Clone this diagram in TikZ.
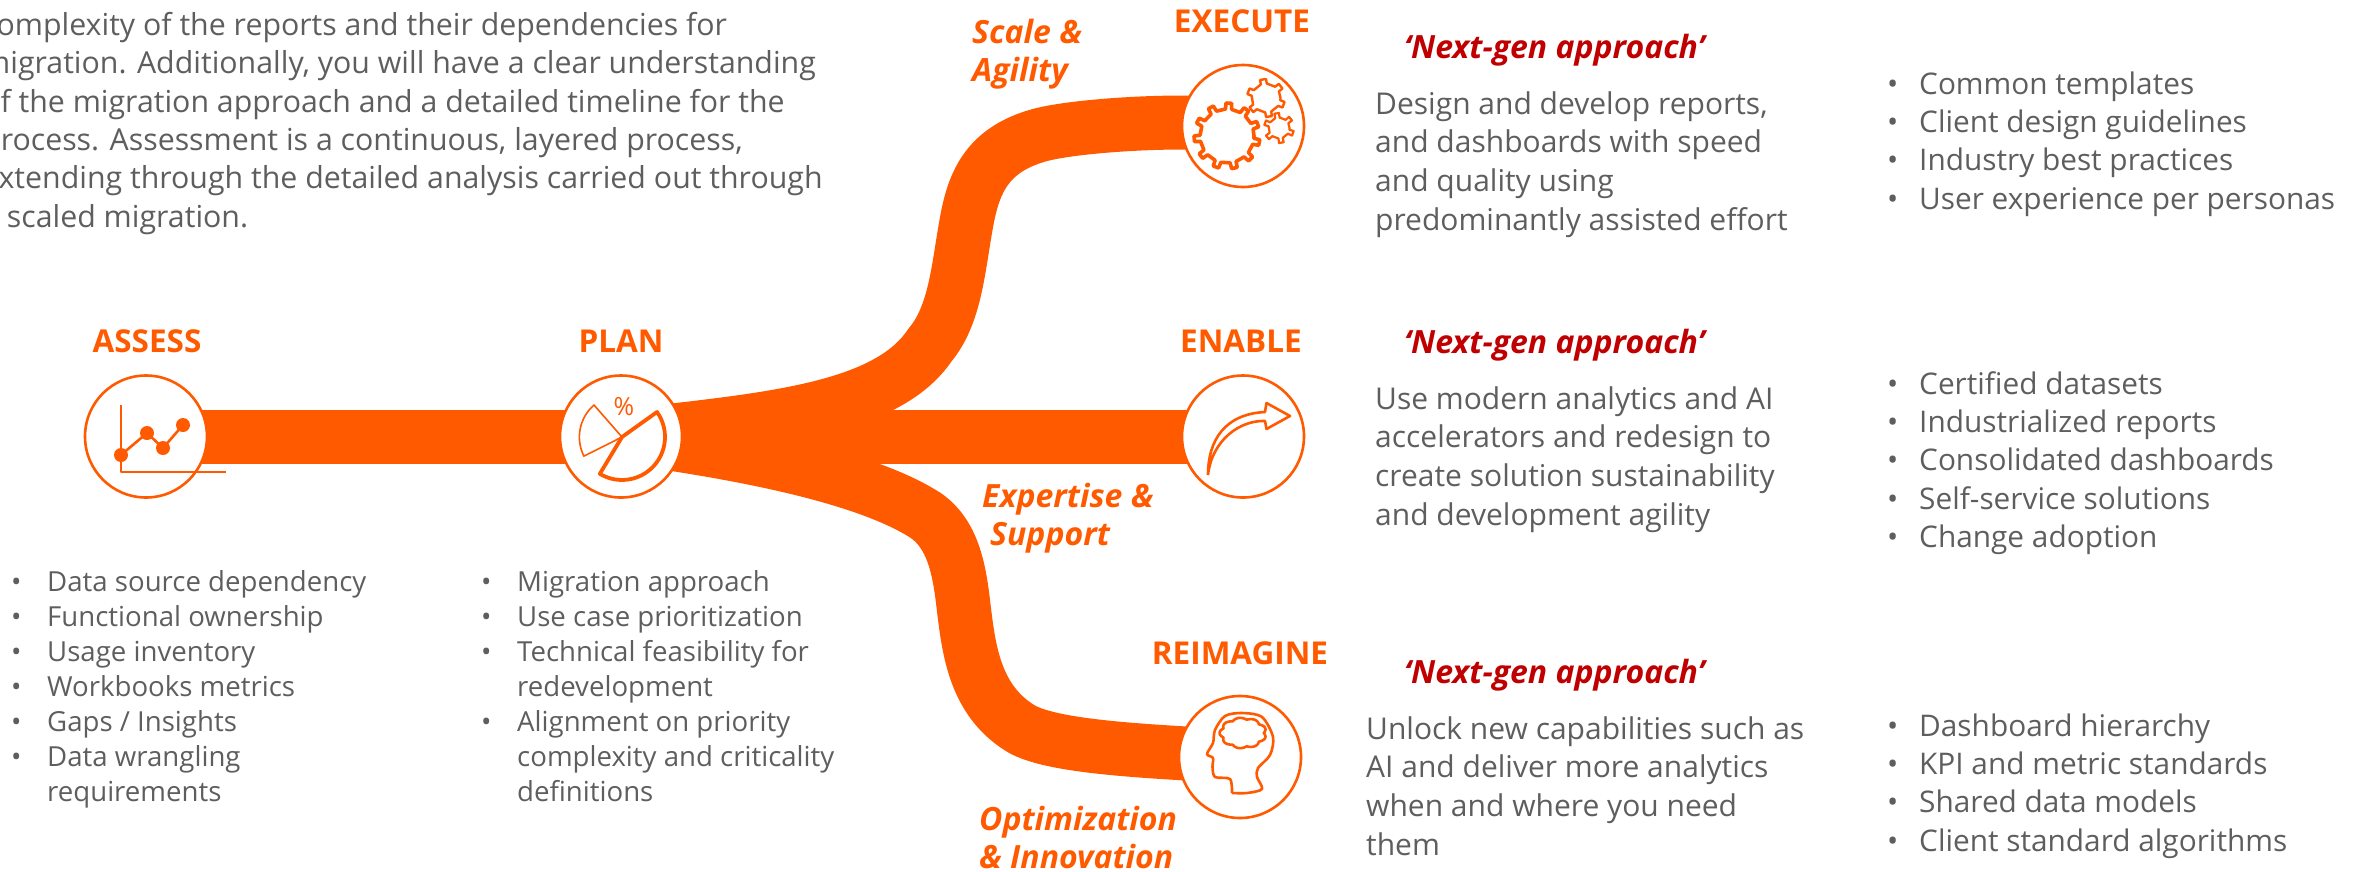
\documentclass[tikz,border=0pt]{standalone}
\usepackage{fontspec}
\setmainfont{Open Sans}
\usetikzlibrary{backgrounds}
\definecolor{brand}{HTML}{FF5A00}
\definecolor{bodygray}{HTML}{5E5E5E}
\definecolor{nextred}{HTML}{C00000}
\newcommand\bi{\makebox[32pt][l]{•}}
\newcommand\bj{\makebox[36pt][l]{•}}
\newcommand\ci{\hspace*{36pt}}
\newcommand\fl{\rule{0pt}{30pt}}
\newcommand\gearicon[6]{%
  \pgfmathsetmacro\gstep{360/#5}
  \draw[iconline,line width=#6pt,shift={(#1,#2)}] (0:#3)
    \foreach \k in {1,...,#5}{
      -- ({(\k-1+.15)*\gstep}:#3) -- ({(\k-1+.2)*\gstep}:#4) -- ({(\k-1+.5)*\gstep}:#4) -- ({(\k-1+.55)*\gstep}:#3)
    } -- cycle;}
\tikzset{
  x=1pt,y=-1pt,
  stage/.style={circle,draw=brand,fill=white,line width=2.6pt,minimum size=122pt,inner sep=0},
  ribbon/.style={draw=brand,line width=54pt,line cap=butt},
  iconline/.style={draw=brand,line width=2.6pt,line join=round},
  iconthin/.style={draw=brand,line width=1.6pt,line join=round},
  iconthick/.style={draw=brand,line width=3.8pt,line join=round},
  heading/.style={text=brand,inner sep=0,font=\fontsize{31.5}{36}\selectfont\bfseries},
  tagline/.style={text=brand,inner sep=0,anchor=north west,yshift=30pt,align=left,font=\fontsize{32}{38.5}\selectfont\bfseries\itshape},
  nextgen/.style={text=nextred,inner sep=0,anchor=base west,font=\fontsize{32}{36}\selectfont\bfseries\itshape},
  bodytext/.style={text=bodygray,inner sep=0,anchor=north west,yshift=30pt,align=left,font=\fontsize{30}{38.6}\selectfont},
  listtext/.style={text=bodygray,inner sep=0,anchor=north west,yshift=30pt,align=left,font=\fontsize{27.6}{35}\selectfont},
  sidelist/.style={text=bodygray,inner sep=0,anchor=north west,yshift=30pt,align=left,font=\fontsize{29.8}{38.3}\selectfont},
}
\begin{document}
\begin{tikzpicture}
\useasboundingbox (0,0) rectangle (2362,871);
% stages
\node[stage] (assess) at (146,436.5) {};
\node[stage] (plan) at (621,436.5) {};
\node[stage] (execute) at (1243,126) {};
\node[stage] (enable) at (1243,436.5) {};
\node[stage] (reimagine) at (1240,757) {};
% ribbons
\begin{pgfonlayer}{background}
\draw[ribbon] (assess.center) -- (plan.center);
\draw[ribbon] (plan.center) -- (enable.center);
\draw[ribbon] (plan.center) .. controls (760,420) and (885,412) .. (930,345)
  .. controls (955,315) and (958,270) .. (966,225)
  .. controls (973,185) and (985,150) .. (1040,135)
  .. controls (1077,125) and (1190,118) .. (execute.center);
\draw[ribbon] (plan.center) .. controls (760,455) and (870,480) .. (925,515)
  .. controls (955,535) and (960,575) .. (964,610)
  .. controls (969,650) and (975,700) .. (1020,728)
  .. controls (1055,750) and (1180,752) .. (reimagine.center);
\end{pgfonlayer}
% headings
\node[heading] (hassess) at (147,341) {ASSESS};
\node[heading] (hplan) at (621,341) {PLAN};
\node[heading] (hexecute) at (1242,21.5) {EXECUTE};
\node[heading] (henable) at (1241,341) {ENABLE};
\node[heading] (hreimagine) at (1240,653) {REIMAGINE};
% assess icon
\draw[iconline] (121,405) -- (121,472) -- (226,472);
\draw[iconline] (121,455) -- (147,433) -- (163,448) -- (183,425);
\foreach \a/\b in {121/455,147/433,163/448,183/425}
  \fill[brand] (\a,\b) circle[radius=7pt];
% plan icon
\draw[iconthin] (622,437) -- (594,405) arc[start angle=131,end angle=206.6,radius=42.5pt] -- cycle;
\draw[iconthick] (622,437) -- (657,412) arc[start angle=35.5,end angle=-121,radius=43pt] -- cycle;
\node[text=brand,inner sep=0,font=\fontsize{25}{30}\selectfont] (pct) at (624,407) {\%};
% execute icon
\gearicon{1227}{136}{27}{33}{11}{3.6}
\gearicon{1266}{98}{14.5}{19}{6}{2.4}
\gearicon{1279}{128}{10.5}{15}{6}{2.2}
% enable icon
\draw[iconline] (1208,475) .. controls (1208,440) and (1225,414) .. (1265,412) -- (1266.5,403) -- (1290,416) -- (1266.5,429) -- (1265,421) .. controls (1240,420) and (1212,440) .. (1208,475);
% reimagine icon
\draw[iconline] plot[smooth,tension=0.5] coordinates {(1232,793) (1230,779) (1215,777) (1212.5,767) (1213,758) (1207,754) (1213,743) (1215,730) (1225,716) (1242,713) (1262,717) (1273,737) (1270,755) (1258,768) (1257,777) (1262,789) (1247,793) (1232,793)};
\draw[iconline] plot[domain=0:360,samples=145,smooth] ({1243+23*(0.9+0.12*abs(sin(4.5*\x)))*cos(\x)},{733+15*(0.9+0.12*abs(sin(4.5*\x)))*sin(\x)}) -- cycle;
% taglines
\node[tagline] (t1) at (972,43) {\fl Scale \&\\Agility};
\node[tagline] (t2) at (982,507) {\fl Expertise \&\\\hspace*{8pt}Support};
\node[tagline] (t3) at (979,830) {\fl Optimization\\\& Innovation};
% next-gen
\node[nextgen] (n1) at (1404,58) {‘Next-gen approach’};
\node[nextgen] (n2) at (1404,353) {‘Next-gen approach’};
\node[nextgen] (n3) at (1404,683) {‘Next-gen approach’};
% paragraph
\node[bodytext,font=\fontsize{30.3}{38.4}\selectfont] (para) at (-18,35) {\fl complexity of the reports and their dependencies for\\migration. Additionally, you will have a clear understanding\\of the migration approach and a detailed timeline for the\\process. Assessment is a continuous, layered process,\\extending through the detailed analysis carried out through\\a scaled migration.};
% lists below
\node[listtext] (l1) at (11,591) {\fl\bj Data source dependency\\\bj Functional ownership\\\bj Usage inventory\\\bj Workbooks metrics\\\bj Gaps / Insights\\\bj Data wrangling\\\ci requirements};
\node[listtext] (l2) at (481,591) {\fl\bj Migration approach\\\bj Use case prioritization\\\bj Technical feasibility for\\\ci redevelopment\\\bj Alignment on priority\\\ci complexity and criticality\\\ci definitions};
% body text
\node[bodytext] (b1) at (1375,114) {\fl Design and develop reports,\\and dashboards with speed\\and quality using\\predominantly assisted effort};
\node[bodytext] (b2) at (1375,409) {\fl Use modern analytics and AI\\accelerators and redesign to\\create solution sustainability\\and development agility};
\node[bodytext] (b3) at (1366,739) {\fl Unlock new capabilities such as\\AI and deliver more analytics\\when and where you need\\them};
% side lists
\node[sidelist] (s1) at (1887,94) {\fl\bi Common templates\\\bi Client design guidelines\\\bi Industry best practices\\\bi User experience per personas};
\node[sidelist] (s2) at (1887,394) {\fl\bi Certified datasets\\\bi Industrialized reports\\\bi Consolidated dashboards\\\bi Self-service solutions\\\bi Change adoption};
\node[sidelist] (s3) at (1887,736) {\fl\bi Dashboard hierarchy\\\bi KPI and metric standards\\\bi Shared data models\\\bi Client standard algorithms};
\end{tikzpicture}
\end{document}
